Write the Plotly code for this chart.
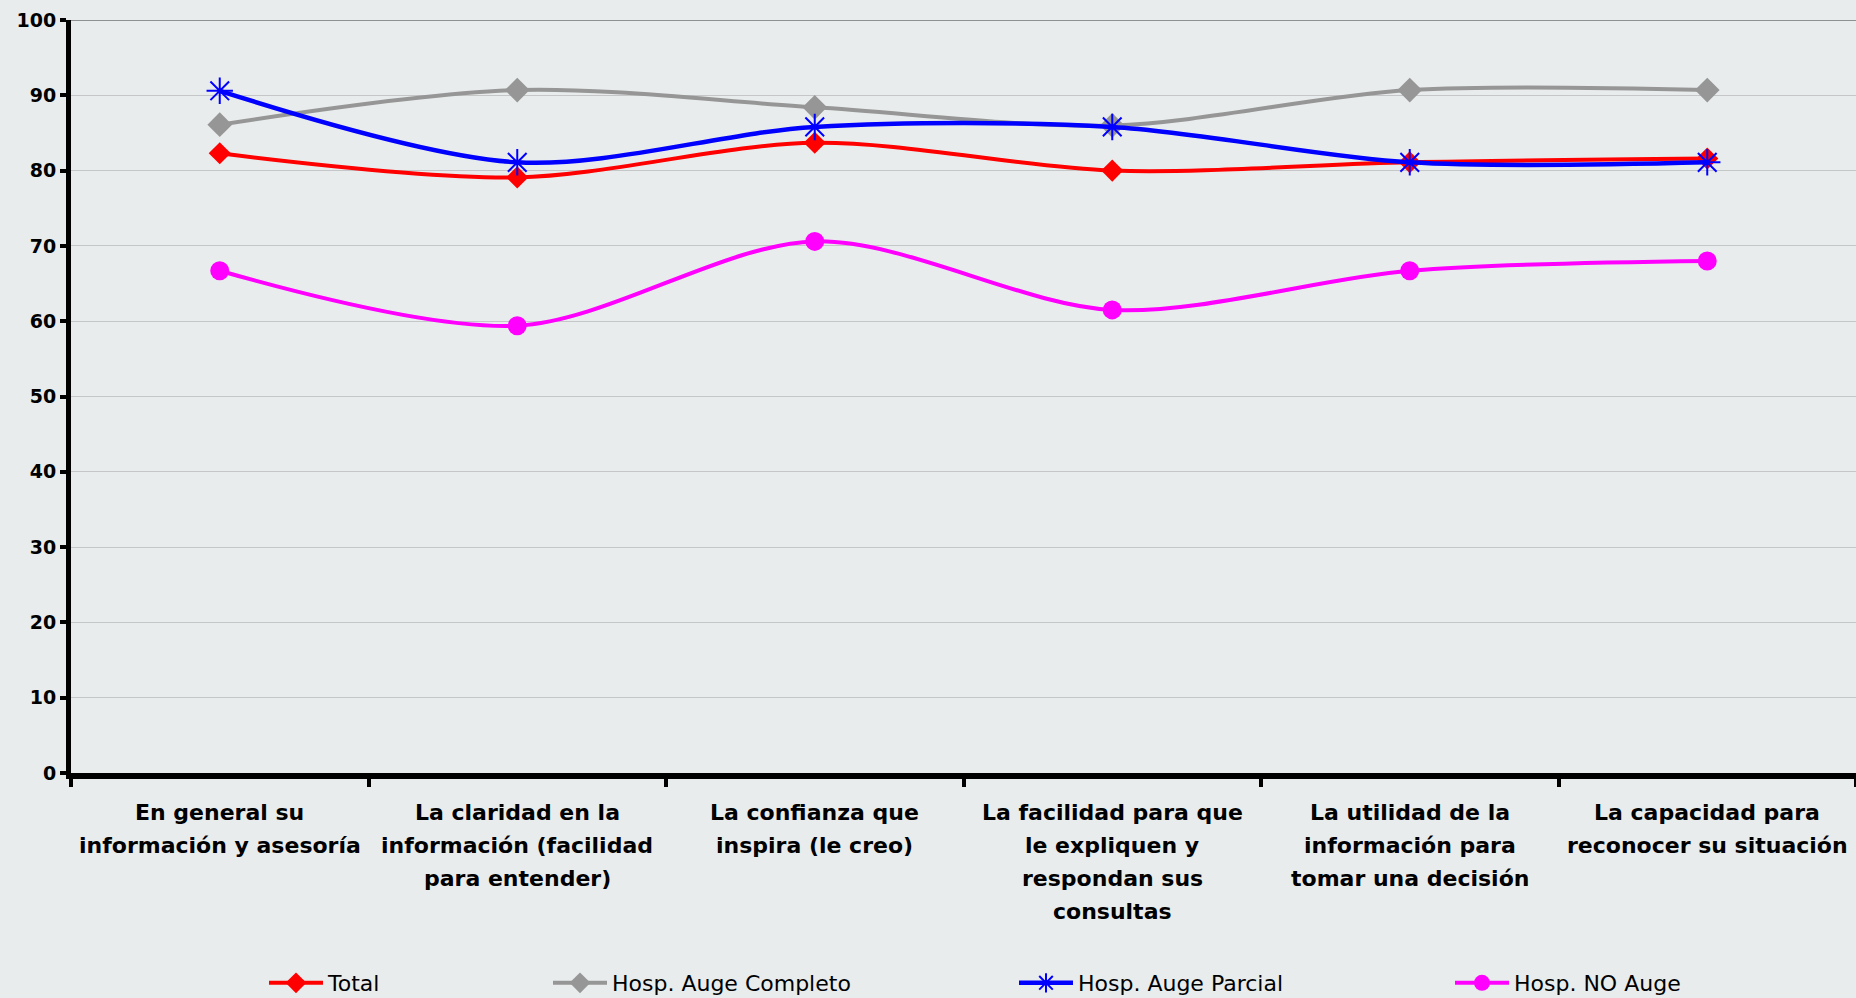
import plotly.graph_objects as go

categories = [
    "En general su información y asesoría",
    "La claridad en la información (facilidad para entender)",
    "La confianza que inspira (le creo)",
    "La facilidad para que le expliquen y respondan sus consultas",
    "La utilidad de la información para tomar una decisión",
    "La capacidad para reconocer su situación",
]
label_lines = [
    ["En general su", "información y asesoría"],
    ["La claridad en la", "información (facilidad", "para entender)"],
    ["La confianza que", "inspira (le creo)"],
    ["La facilidad para que", "le expliquen y", "respondan sus", "consultas"],
    ["La utilidad de la", "información para", "tomar una decisión"],
    ["La capacidad para", "reconocer su situación"],
]
total = [82.3, 79.1, 83.7, 80.0, 81.1, 81.6]
auge_completo = [86.1, 90.7, 88.4, 86.0, 90.7, 90.7]
auge_parcial = [90.6, 81.1, 85.8, 85.8, 81.1, 81.1]
no_auge = [66.7, 59.4, 70.6, 61.5, 66.7, 68.0]
y_ticks = [0, 10, 20, 30, 40, 50, 60, 70, 80, 90, 100]

series = [
    ("Total", total, "#FF0000", "diamond", 17, 4, "legend"),
    ("Hosp. Auge Completo", auge_completo, "#969696", "diamond", 19, 4, "legend2"),
    ("Hosp. Auge Parcial", auge_parcial, "#0000FF", "asterisk-open", 22, 4.5, "legend3"),
    ("Hosp. NO Auge", no_auge, "#FF00FF", "circle", 19, 4, "legend4"),
]

W, H = 1856, 998
L, R, T, B = 71, 0, 20, 225

fig = go.Figure()
for name, vals, color, sym, size, lw, lg in series:
    fig.add_trace(go.Scatter(
        x=categories, y=vals, name=name, mode="lines+markers",
        line=dict(color=color, width=lw, shape="spline", smoothing=0.9),
        marker=dict(symbol=sym, size=size, color=color,
                    line=dict(color=color, width=2 if sym == "asterisk-open" else 0)),
        legend=lg,
    ))

bg = "#E9ECED"
fig.update_layout(
    width=W, height=H,
    margin=dict(l=L, r=R, t=T, b=B),
    paper_bgcolor=bg, plot_bgcolor=bg,
    font=dict(family="DejaVu Sans", color="#000000"),
    showlegend=True,
)
legend_x = [264, 548, 1014, 1450]
for i, lg in enumerate(["legend", "legend2", "legend3", "legend4"]):
    fig.update_layout({lg: dict(
        xref="container", yref="container",
        x=legend_x[i] / W, y=1 - 983 / H, xanchor="left", yanchor="middle",
        orientation="h", bgcolor="rgba(0,0,0,0)", borderwidth=0,
        font=dict(family="DejaVu Sans", size=22, color="#000000"),
        itemwidth=54, tracegroupgap=0,
    )})

fig.update_yaxes(
    range=[0, 100], tickvals=y_ticks, ticktext=[str(v) for v in y_ticks],
    showgrid=True, gridcolor="#C4C6C8", gridwidth=1,
    showline=True, linecolor="#000000", linewidth=5,
    ticks="outside", ticklen=6, tickwidth=4, tickcolor="#000000",
    tickfont=dict(family="DejaVu Sans", size=19, color="#000000", weight="bold"),
    zeroline=False, fixedrange=True,
)
fig.update_xaxes(
    type="category", range=[-0.5, len(categories) - 0.5],
    showgrid=False, showline=True, linecolor="#000000", linewidth=6,
    ticks="outside", tickson="boundaries", ticklen=8, tickwidth=4, tickcolor="#000000",
    showticklabels=False, zeroline=False,
)

# darker top gridline at 100
fig.add_shape(type="line", xref="paper", yref="y", x0=0, x1=1, y0=y_ticks[-1], y1=y_ticks[-1],
              line=dict(color="#8E9091", width=2), layer="below")

for i, lines in enumerate(label_lines):
    for j, txt in enumerate(lines):
        fig.add_annotation(
            x=categories[i], xref="x", y=0, yref="paper",
            text=txt, showarrow=False, xanchor="center", yanchor="middle",
            yshift=-(39 + 33 * j),
            font=dict(family="DejaVu Sans", size=22, color="#000000", weight="bold"),
        )

fig.write_html("out.html", config={"displayModeBar": False},
               post_script="document.body.style.margin='0';document.body.style.overflow='hidden';")
